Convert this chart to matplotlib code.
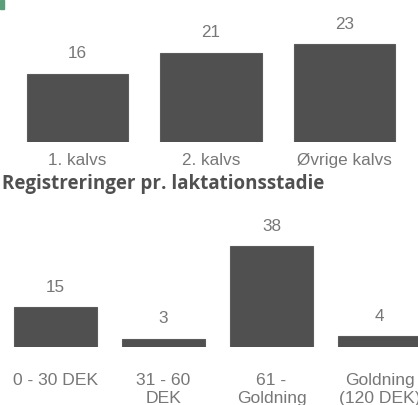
import matplotlib.pyplot as plt
from matplotlib.patches import Rectangle

kalv_labels = ["1. kalvs", "2. kalvs", "Øvrige kalvs"]
kalv_values = [16, 21, 23]

stadie_labels = ["0 - 30 DEK", "31 - 60\nDEK", "61 -\nGoldning", "Goldning\n(120 DEK)"]
stadie_values = [15, 3, 38, 4]

bar_color = '#505050'
text_color = '#777777'

plt.rcParams['font.family'] = ['Liberation Sans', 'DejaVu Sans']

fig = plt.figure(figsize=(4.18, 4.05), dpi=100)

# top chart
ax1 = fig.add_axes([0, (405 - 142) / 405, 1, 142 / 405])
x1 = range(len(kalv_values))
bars1 = ax1.bar(x1, kalv_values, width=0.757, color=bar_color, edgecolor='#5c5c5c', linewidth=0.8)
ax1.set_xlim(-77.5 / 133.5, (418 - 77.5) / 133.5)
ax1.set_ylim(0, 142 / 4.25)
for b, v in zip(bars1, kalv_values):
    ax1.annotate(str(v), (b.get_x() + b.get_width() / 2, v), xytext=(0, 14.5),
                 textcoords='offset points', ha='center', va='center',
                 fontsize=12.3, color=text_color)
ax1.set_xticks(list(x1))
ax1.set_xticklabels(kalv_labels, fontsize=12.3, color=text_color)
ax1.tick_params(axis='x', length=0, pad=8)
ax1.set_yticks([])
for s in ax1.spines.values():
    s.set_visible(False)
ax1.patch.set_alpha(0)

fig.text(2 / 418, 1 - 184 / 405, "Registreringer pr. laktationsstadie",
         fontsize=13.5, fontweight='bold', color='#505050', ha='left', va='center',
         family=['Open Sans', 'DejaVu Sans'])

# bottom chart
ax2 = fig.add_axes([0, 58 / 405, 1, 147 / 405])
x2 = range(len(stadie_values))
bars2 = ax2.bar(x2, stadie_values, width=0.77, color=bar_color, edgecolor='#5c5c5c', linewidth=0.8)
ax2.set_xlim(-55.5 / 108, (418 - 55.5) / 108)
ax2.set_ylim(0, 147 / 2.65)
for b, v in zip(bars2, stadie_values):
    ax2.annotate(str(v), (b.get_x() + b.get_width() / 2, v), xytext=(0, 14.5),
                 textcoords='offset points', ha='center', va='center',
                 fontsize=12.3, color=text_color)
ax2.set_xticks(list(x2))
ax2.set_xticklabels(stadie_labels, fontsize=12.6, color=text_color, linespacing=1.25)
ax2.tick_params(axis='x', length=0, pad=19)
ax2.set_yticks([])
for s in ax2.spines.values():
    s.set_visible(False)
ax2.patch.set_alpha(0)

# green corner from the screenshot
fig.patches.append(Rectangle((0, 1 - 9 / 405), 4 / 418, 9 / 405, transform=fig.transFigure,
                             color='#5a9e7a', zorder=5))

fig.savefig('out.png', dpi=100)
